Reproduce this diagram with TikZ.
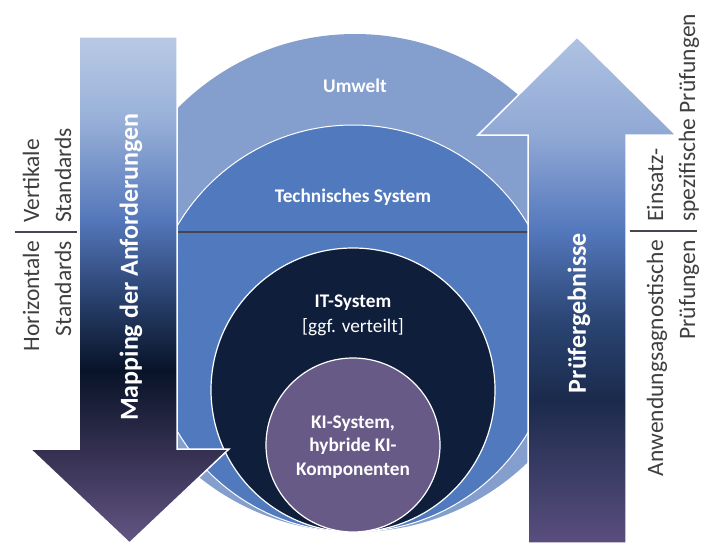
\documentclass[tikz,border=0pt]{standalone}
\usepackage{fontspec}
\setmainfont{Carlito}
\usepackage{xcolor}
\usepackage{tikz}

\definecolor{umweltblue}{HTML}{849FCD}
\definecolor{technblue}{HTML}{5079BE}
\definecolor{itnavy}{HTML}{0F1F3B}
\definecolor{kipurple}{HTML}{675A86}
\definecolor{sepgray}{HTML}{464650}
\definecolor{lblgray}{HTML}{3F3F3F}

% colours of the two arrows, top to bottom
\definecolor{la1}{HTML}{B8C9E5}
\definecolor{la2}{HTML}{98B0D8}
\definecolor{la3}{HTML}{5477BA}
\definecolor{la4}{HTML}{2D4675}
\definecolor{la5}{HTML}{081328}
\definecolor{la6}{HTML}{342F50}
\definecolor{la7}{HTML}{625684}
\definecolor{ra1}{HTML}{AFC2E2}
\definecolor{ra2}{HTML}{90A8D5}
\definecolor{ra3}{HTML}{5478BC}
\definecolor{ra4}{HTML}{2B4574}
\definecolor{ra5}{HTML}{1B2A4C}
\definecolor{ra6}{HTML}{5A4E7E}

\pgfdeclareverticalshading{mapshade}{100bp}{color(0bp)=(la7); color(25bp)=(la7);
  color(34.2bp)=(la6); color(42.1bp)=(la5); color(50bp)=(la4);
  color(56.9bp)=(la3); color(66.8bp)=(la2); color(75bp)=(la1); color(100bp)=(la1)}
\pgfdeclareverticalshading{pruefshade}{100bp}{color(0bp)=(ra6); color(25bp)=(ra6);
  color(39.1bp)=(ra5); color(47bp)=(ra4); color(55.9bp)=(ra3);
  color(65.3bp)=(ra2); color(75bp)=(ra1); color(100bp)=(ra1)}

\begin{document}
\begin{tikzpicture}[x=1pt,y=-1pt,
    circtxt/.style={text=white,font=\fontsize{19.3}{23.5}\selectfont\bfseries,inner sep=0pt,align=center},
    arrtxt/.style={text=white,font=\fontsize{26}{30}\selectfont\bfseries,inner sep=0pt,rotate=90},
    sidetxt/.style={text=lblgray,font=\fontsize{23.5}{32}\selectfont,inner sep=0pt,rotate=90},
    sepline/.style={draw=sepgray,line width=2.5pt}]
    \useasboundingbox (0,0) rectangle (706,543);

    % circles
    \fill[umweltblue] (355,283) circle[radius=249pt];
    \filldraw[fill=technblue,draw=white,line width=1pt] (353,328.5) circle[radius=203.5pt];
    \draw[sepline] (170,232) -- (535,232); % Trennlinie
    \filldraw[fill=itnavy,draw=white,line width=1.2pt] (353,390) circle[radius=142pt];
    \filldraw[fill=kipurple,draw=white,line width=1.2pt] (353,445) circle[radius=87pt];

    % arrows
    \shadedraw[shading=mapshade,draw=white,line width=1.5pt]
        (79,37) -- (177,37) -- (177,449) -- (229,449) -- (129.5,543)
        -- (30,449) -- (79,449) -- cycle;
    \shadedraw[shading=pruefshade,draw=white,line width=1.5pt]
        (528,543) -- (528,135) -- (478,135) -- (577,37) -- (676,135)
        -- (626,135) -- (626,543) -- cycle;

    % labels in the circles
    \node[circtxt] (umwelt) at (355,86) {Umwelt};
    \node[circtxt] (techn) at (353,197) {Technisches System};
    \node[circtxt] (itsys) at (353,303) {IT-System};
    \node[circtxt,font=\fontsize{19.3}{23.5}\selectfont] (itsub) at (353,327) {[ggf. verteilt]};
    \node[circtxt] (kisys) at (353,447) {KI-System,\\hybride KI-\\Komponenten};

    % arrow labels
    \node[arrtxt] (mapping) at (131,267) {Mapping der Anforderungen};
    \node[arrtxt] (pruef) at (579,313) {Prüfergebnisse};

    % side labels
    \draw[sepline] (15,232) -- (77,232);
    \node[sidetxt,anchor=west,align=left] (vert) at (47,223) {Vertikale\\Standards};
    \node[sidetxt,anchor=east,align=right] (horiz) at (47,241) {Horizontale\\Standards};
    \draw[sepline] (630,231) -- (697,231);
    \node[sidetxt,anchor=west,align=left] (einsatz) at (673,222) {Einsatz-\\spezifische Prüfungen};
    \node[sidetxt,anchor=east,align=right] (anwend) at (673,240) {Anwendungsagnostische\\Prüfungen};
\end{tikzpicture}
\end{document}
